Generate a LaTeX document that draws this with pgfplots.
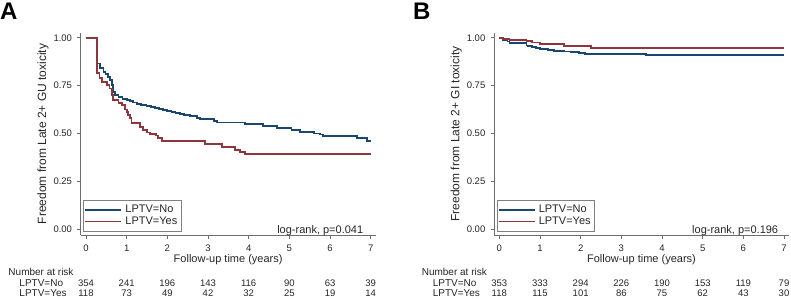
\documentclass[border=0pt]{standalone}
\usepackage{fontspec}
\setmainfont{Liberation Sans}
\newfontfamily\ylfont{Liberation Sans}
\usepackage{pgfplots}
\pgfplotsset{compat=1.18}
\definecolor{snavy}{RGB}{26,71,111}
\definecolor{smaroon}{RGB}{144,53,59}
\definecolor{axgray}{RGB}{110,110,110}
\tikzset{
  risk/.style={anchor=base, inner sep=0pt, font=\fontsize{9.5}{12}\selectfont, text=black!85},
  risklab/.style={anchor=base west, inner sep=0pt, font=\fontsize{10}{12}\selectfont, text=black!85},
}
\pgfplotsset{
  kmaxis/.style={
    scale only axis,
    width=294.9pt, height=202.1pt,
    xmin=-0.13, xmax=7.12, ymin=-0.03, ymax=1.025,
    axis x line*=bottom, axis y line*=left,
    axis line style={-, draw=axgray, line width=0.8pt},
    tick style={draw=axgray, line width=0.8pt},
    tick align=outside, major tick length=3.5pt,
    xtick={0,1,2,3,4,5,6,7}, xticklabels={0,1,2,3,4,5,6,7},
    ytick={0,0.25,0.5,0.75,1}, yticklabels={0.00,0.25,0.50,0.75,1.00},
    ticklabel style={font=\fontsize{9.5}{12}\selectfont, text=black!85},
    xticklabel style={inner sep=0pt, anchor=north, yshift=-6pt, text height=6.9pt, text depth=0pt},
    yticklabel style={inner sep=0pt, anchor=east, xshift=-5pt},
    xlabel style={at={(axis description cs:0.5,-0.1202)}, anchor=center, font=\fontsize{11}{13}\selectfont, text=black!85},
    ylabel style={at={(axis description cs:-0.128,0.5)}, anchor=center, text=black!85},
    xlabel={Follow-up time (years)},
    clip=false,
    legend cell align=left,
    legend style={at={(rel axis cs:0.009,0.016)}, anchor=south west,
      draw=black!50, line width=0.6pt, fill=white,
      inner xsep=0.7pt, inner ysep=4.5pt, row sep=0.7pt,
      font=\fontsize{11}{11}\selectfont, text=black!85,
      nodes={inner xsep=3.3pt, inner ysep=0pt, text height=8.2pt, text depth=2.8pt}},
  },
  kmline/.style={const plot, line width=1.8pt, line join=miter, mark=none,
    legend image code/.code={\draw[##1] (0pt,0pt) -- (36pt,0pt);}},
}
\begin{document}
\begin{tikzpicture}
\path[use as bounding box] (0pt,0pt) rectangle (791pt,-298pt);
\node[anchor=base west, inner sep=0pt, font=\bfseries\fontsize{24}{24}\selectfont] at (0pt,-19pt) {A};
\node[anchor=base west, inner sep=0pt, font=\bfseries\fontsize{24}{24}\selectfont] at (413pt,-19pt) {B};

% ---------------- Panel A ----------------
\begin{axis}[kmaxis, at={(80.7pt,-235.05pt)}, anchor=south west,
  ylabel={\ylfont\fontsize{12}{14}\selectfont Freedom from Late 2+ GU toxicity}]
\addplot[kmline, snavy] coordinates {
(0,1.000) (0.27,0.866) (0.34,0.840) (0.43,0.823) (0.48,0.810) (0.55,0.797)
(0.60,0.779) (0.64,0.753) (0.67,0.718) (0.71,0.700) (0.80,0.690) (0.90,0.682)
(1.00,0.674) (1.08,0.668) (1.15,0.662) (1.25,0.655) (1.35,0.650) (1.49,0.643)
(1.60,0.637) (1.70,0.632) (1.80,0.627) (1.90,0.622) (2.00,0.617) (2.10,0.612)
(2.20,0.607) (2.31,0.601) (2.40,0.596) (2.55,0.590) (2.72,0.582) (2.80,0.574)
(3.15,0.566) (3.22,0.558) (3.90,0.548) (4.35,0.539) (4.70,0.530) (5.05,0.518)
(5.26,0.509) (5.60,0.500) (5.75,0.495) (5.83,0.487) (6.66,0.475) (6.90,0.462)
(7.00,0.462)};
\addlegendentry{LPTV=No}
\addplot[kmline, smaroon] coordinates {
(0,1.000) (0.27,0.814) (0.33,0.788) (0.39,0.770) (0.52,0.753) (0.58,0.735)
(0.63,0.700) (0.66,0.675) (0.80,0.660) (0.88,0.648) (0.95,0.625) (1.00,0.614)
(1.03,0.595) (1.08,0.580) (1.12,0.553) (1.32,0.535) (1.40,0.520) (1.50,0.505)
(1.58,0.497) (1.72,0.490) (1.78,0.475) (1.86,0.462) (2.93,0.445) (3.34,0.431)
(3.66,0.414) (3.79,0.405) (3.91,0.393) (7.00,0.393)};
\addlegendentry{LPTV=Yes}
\node[anchor=base east, inner sep=0pt, font=\fontsize{11}{11}\selectfont, text=black!85] at (axis cs:6.82,-0.022) {log-rank, p=0.041};
\node[risklab] at (axis cs:-1.91,-0.241) {Number at risk};
\node[risklab] at (axis cs:-1.64,-0.300) {LPTV=No};
\node[risklab] at (axis cs:-1.64,-0.352) {LPTV=Yes};
\node[risk] at (axis cs:0,-0.300) {354};
\node[risk] at (axis cs:1,-0.300) {241};
\node[risk] at (axis cs:2,-0.300) {196};
\node[risk] at (axis cs:3,-0.300) {143};
\node[risk] at (axis cs:4,-0.300) {116};
\node[risk] at (axis cs:5,-0.300) {90};
\node[risk] at (axis cs:6,-0.300) {63};
\node[risk] at (axis cs:7,-0.300) {39};
\node[risk] at (axis cs:0,-0.352) {118};
\node[risk] at (axis cs:1,-0.352) {73};
\node[risk] at (axis cs:2,-0.352) {49};
\node[risk] at (axis cs:3,-0.352) {42};
\node[risk] at (axis cs:4,-0.352) {32};
\node[risk] at (axis cs:5,-0.352) {25};
\node[risk] at (axis cs:6,-0.352) {19};
\node[risk] at (axis cs:7,-0.352) {14};
\end{axis}

% ---------------- Panel B ----------------
\begin{axis}[kmaxis, at={(494.0pt,-235.05pt)}, anchor=south west,
  ylabel={\ylfont\fontsize{12}{14}\selectfont Freedom from Late 2+ GI toxicity}]
\addplot[kmline, snavy] coordinates {
(0,1.000) (0.10,0.990) (0.20,0.980) (0.25,0.972) (0.67,0.960) (0.70,0.955)
(0.80,0.950) (0.90,0.945) (1.00,0.942) (1.10,0.940) (1.20,0.936) (1.35,0.932)
(1.60,0.928) (1.75,0.925) (1.95,0.920) (2.10,0.917) (2.20,0.915) (3.60,0.910)
(7.00,0.910)};
\addlegendentry{LPTV=No}
\addplot[kmline, smaroon] coordinates {
(0,1.000) (0.10,0.995) (0.25,0.990) (0.67,0.983) (0.80,0.975) (1.00,0.966)
(1.60,0.958) (2.25,0.946) (7.00,0.946)};
\addlegendentry{LPTV=Yes}
\node[anchor=base east, inner sep=0pt, font=\fontsize{11}{11}\selectfont, text=black!85] at (axis cs:6.86,-0.022) {log-rank, p=0.196};
\node[risklab] at (axis cs:-1.91,-0.241) {Number at risk};
\node[risklab] at (axis cs:-1.64,-0.300) {LPTV=No};
\node[risklab] at (axis cs:-1.64,-0.352) {LPTV=Yes};
\node[risk] at (axis cs:0,-0.300) {353};
\node[risk] at (axis cs:1,-0.300) {333};
\node[risk] at (axis cs:2,-0.300) {294};
\node[risk] at (axis cs:3,-0.300) {226};
\node[risk] at (axis cs:4,-0.300) {190};
\node[risk] at (axis cs:5,-0.300) {153};
\node[risk] at (axis cs:6,-0.300) {119};
\node[risk] at (axis cs:7,-0.300) {79};
\node[risk] at (axis cs:0,-0.352) {118};
\node[risk] at (axis cs:1,-0.352) {115};
\node[risk] at (axis cs:2,-0.352) {101};
\node[risk] at (axis cs:3,-0.352) {86};
\node[risk] at (axis cs:4,-0.352) {75};
\node[risk] at (axis cs:5,-0.352) {62};
\node[risk] at (axis cs:6,-0.352) {43};
\node[risk] at (axis cs:7,-0.352) {30};
\end{axis}
\end{tikzpicture}
\end{document}
